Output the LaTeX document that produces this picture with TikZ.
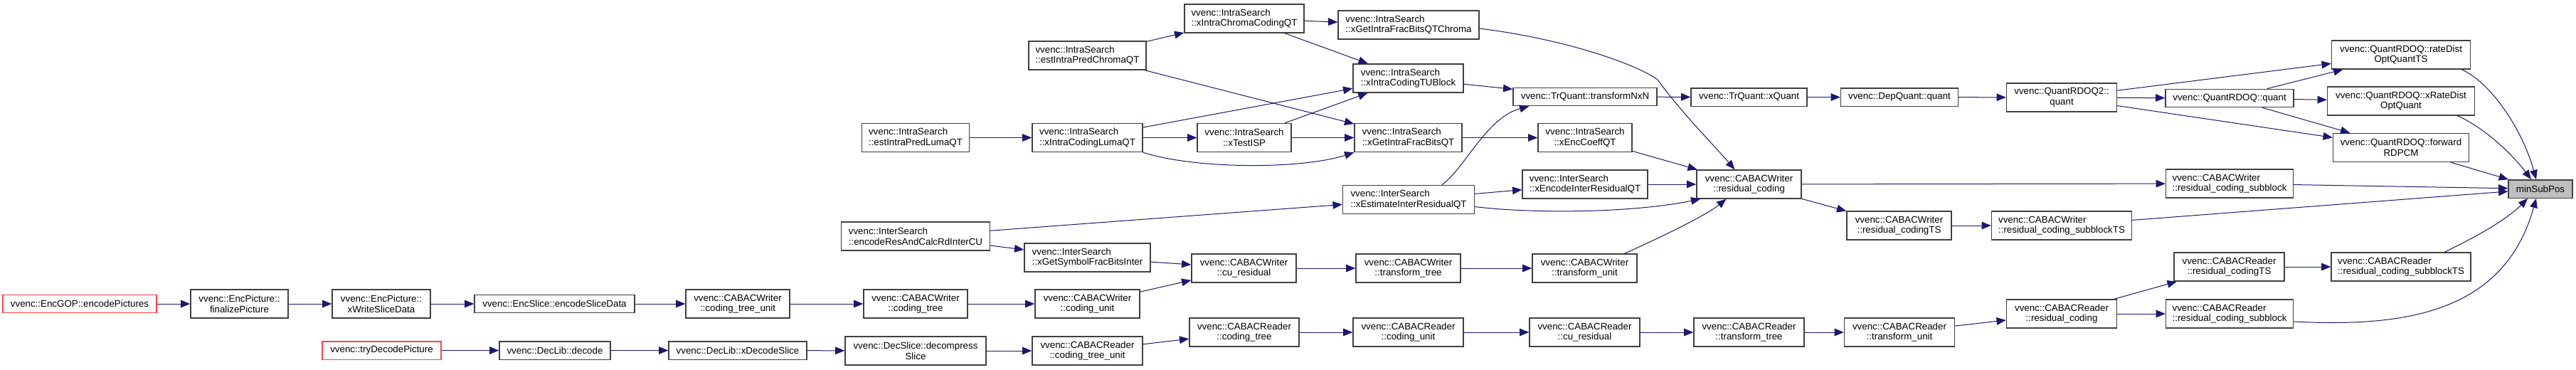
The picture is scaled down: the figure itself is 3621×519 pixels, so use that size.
\documentclass[tikz,border=0pt]{standalone}
\usepackage{fontspec}
\setmainfont{Liberation Sans}
\usetikzlibrary{arrows.meta,calc}
\definecolor{callEdge}{RGB}{25,25,112}
\definecolor{callRoot}{RGB}{255,64,64}
\definecolor{callFocus}{RGB}{191,191,191}
\definecolor{callBorder}{RGB}{64,64,64}

\begin{document}
\begin{tikzpicture}[x=0.75pt, y=-0.75pt, >={Triangle[length=10pt,width=8pt]},
  fnnode/.style={draw=callBorder, line width=1pt, fill=white, align=center, inner sep=1pt,
     minimum height=30pt, font=\fontsize{10}{11}\selectfont},
  fnleft/.style={fnnode, align=left},
  oneline/.style={minimum height=19pt},
  bw/.style={minimum width=#1*0.75pt},
  rootnode/.style={draw=callRoot},
  call/.style={->, line width=0.75pt, callEdge}]
  \useasboundingbox (0,0) rectangle (3621,519);
  % encoder chain
  \node[fnnode, rootnode, oneline, bw=216] (encpics) at (112,427) {vvenc::EncGOP::encodePictures};
  \node[fnnode, bw=137] (finpic) at (336.5,427) {vvenc::EncPicture::\\finalizePicture};
  \node[fnnode, bw=138] (wrslice) at (536,427) {vvenc::EncPicture::\\xWriteSliceData};
  \node[fnnode, oneline, bw=225] (encslice) at (779.5,427) {vvenc::EncSlice::encodeSliceData};
  \node[fnnode, bw=146] (ctuW) at (1037,427) {vvenc::CABACWriter\\::coding\_tree\_unit};
  \node[fnnode, bw=146] (ctW) at (1287,427) {vvenc::CABACWriter\\::coding\_tree};
  \node[fnnode, bw=147] (cuW) at (1528.5,427) {vvenc::CABACWriter\\::coding\_unit};
  \node[fnnode, bw=147] (curesW) at (1748.5,377) {vvenc::CABACWriter\\::cu\_residual};
  \node[fnnode, bw=147] (ttW) at (1979.5,377) {vvenc::CABACWriter\\::transform\_tree};
  \node[fnnode, bw=147] (tuW) at (2227.5,377) {vvenc::CABACWriter\\::transform\_unit};
  \node[fnnode, bw=147] (resW) at (2458.5,259) {vvenc::CABACWriter\\::residual\_coding};
  \node[fnnode, bw=147] (restsW) at (2669.5,317) {vvenc::CABACWriter\\::residual\_codingTS};
  \node[fnleft, bw=197] (sbtsW) at (2898,317) {vvenc::CABACWriter\\::residual\_coding\_subblockTS};
  \node[fnleft, bw=179] (sbW) at (3134,258) {vvenc::CABACWriter\\::residual\_coding\_subblock};
  % decoder chain
  \node[fnnode, rootnode, oneline, bw=167] (trydec) at (536.5,492.5) {vvenc::tryDecodePicture};
  \node[fnnode, oneline, bw=156] (dec) at (780,492.5) {vvenc::DecLib::decode};
  \node[fnnode, oneline, bw=194] (xdecsl) at (1037,492.5) {vvenc::DecLib::xDecodeSlice};
  \node[fnnode, bw=198] (decomp) at (1287,493) {vvenc::DecSlice::decompress\\Slice};
  \node[fnnode, bw=155] (ctuR) at (1528.5,493) {vvenc::CABACReader\\::coding\_tree\_unit};
  \node[fnnode, bw=154] (ctR) at (1749,467) {vvenc::CABACReader\\::coding\_tree};
  \node[fnnode, bw=155] (cuR) at (1979.5,467) {vvenc::CABACReader\\::coding\_unit};
  \node[fnnode, bw=155] (curesR) at (2227.5,467) {vvenc::CABACReader\\::cu\_residual};
  \node[fnnode, bw=155] (ttR) at (2458.5,467) {vvenc::CABACReader\\::transform\_tree};
  \node[fnnode, bw=155] (tuR) at (2670,467) {vvenc::CABACReader\\::transform\_unit};
  \node[fnnode, bw=155] (resR) at (2898,441) {vvenc::CABACReader\\::residual\_coding};
  \node[fnnode, bw=155] (restsR) at (3133.5,375) {vvenc::CABACReader\\::residual\_codingTS};
  \node[fnleft, bw=179] (sbR) at (3134,441) {vvenc::CABACReader\\::residual\_coding\_subblock};
  \node[fnleft, bw=196] (sbtsR) at (3375,375) {vvenc::CABACReader\\::residual\_coding\_subblockTS};
  % intra search
  \node[fnleft, bw=151] (estluma) at (1287,193.5) {vvenc::IntraSearch\\::estIntraPredLumaQT};
  \node[fnleft, bw=155] (lumaqt) at (1528.5,193.5) {vvenc::IntraSearch\\::xIntraCodingLumaQT};
  \node[fnnode, bw=132] (isp) at (1749,193.5) {vvenc::IntraSearch\\::xTestISP};
  \node[fnleft, bw=151] (fbqt) at (1979.5,193.5) {vvenc::IntraSearch\\::xGetIntraFracBitsQT};
  \node[fnnode, bw=132] (enccoef) at (2228,193.5) {vvenc::IntraSearch\\::xEncCoeffQT};
  \node[fnleft, bw=165] (estchroma) at (1528.5,78) {vvenc::IntraSearch\\::estIntraPredChromaQT};
  \node[fnleft, bw=168] (chromaqt) at (1749,26) {vvenc::IntraSearch\\::xIntraChromaCodingQT};
  \node[fnleft, bw=198] (fbchroma) at (1980,35) {vvenc::IntraSearch\\::xGetIntraFracBitsQTChroma};
  \node[fnleft, bw=155] (tublock) at (1979.5,110) {vvenc::IntraSearch\\::xIntraCodingTUBlock};
  % inter search
  \node[fnleft, bw=209] (encres) at (1287,332) {vvenc::InterSearch\\::encodeResAndCalcRdInterCU};
  \node[fnleft, bw=177] (symbits) at (1528.5,362) {vvenc::InterSearch\\::xGetSymbolFracBitsInter};
  \node[fnleft, bw=185] (estinter) at (1980,280.5) {vvenc::InterSearch\\::xEstimateInterResidualQT};
  \node[fnleft, bw=176] (encinter) at (2228,259) {vvenc::InterSearch\\::xEncodeInterResidualQT};
  % quantization
  \node[fnnode, oneline, bw=202] (tnxn) at (2228,136) {vvenc::TrQuant::transformNxN};
  \node[fnnode, oneline, bw=163] (xquant) at (2458.5,136.5) {vvenc::TrQuant::xQuant};
  \node[fnnode, oneline, bw=165] (depq) at (2670,136.5) {vvenc::DepQuant::quant};
  \node[fnnode, bw=155] (rdoq2) at (2898,137) {vvenc::QuantRDOQ2::\\quant};
  \node[fnnode, oneline, bw=180] (rdoq) at (3134,138) {vvenc::QuantRDOQ::quant};
  \node[fnnode, bw=195] (rdoqts) at (3375,77) {vvenc::QuantRDOQ::rateDist\\OptQuantTS};
  \node[fnnode, bw=207] (xrdoq) at (3375,142) {vvenc::QuantRDOQ::xRateDist\\OptQuant};
  \node[fnnode, bw=191] (rdpcm) at (3375,207.5) {vvenc::QuantRDOQ::forward\\RDPCM};
  \node[fnnode, oneline, fill=callFocus, bw=90] (minsub) at (3571,265.5) {minSubPos};

  \draw[call] (encpics) -- (finpic);
  \draw[call] (finpic) -- (wrslice);
  \draw[call] (wrslice) -- (encslice);
  \draw[call] (encslice) -- (ctuW);
  \draw[call] (ctuW) -- (ctW);
  \draw[call] (ctW) -- (cuW);
  \draw[call] (cuW) -- (curesW);
  \draw[call] (curesW) -- (ttW);
  \draw[call] (ttW) -- (tuW);
  \draw[call] ($(tuW.north)+(56,0)$) .. controls (2320,340) and (2395,305) .. ($(resW.south)+(-32,0)$);
  \draw[call] (trydec) -- (dec);
  \draw[call] (dec) -- (xdecsl);
  \draw[call] (xdecsl) -- (decomp);
  \draw[call] (decomp) -- (ctuR);
  \draw[call] (ctuR) -- (ctR);
  \draw[call] (ctR) -- (cuR);
  \draw[call] (cuR) -- (curesR);
  \draw[call] (curesR) -- (ttR);
  \draw[call] (ttR) -- (tuR);
  \draw[call] (tuR) -- (resR);
  \draw[call] (resR) -- (restsR);
  \draw[call] (resR) -- (sbR);
  \draw[call] (restsR) -- (sbtsR);
  \draw[call] ($(sbtsR.north)+(61,0)$) .. controls (3470,338) and (3520,312) .. ($(minsub.south)+(-18,0)$);
  \draw[call] ($(sbR.east)+(0,11)$) .. controls (3380,460) and (3520,440) .. ($(minsub.south)+(-6,0)$);
  \draw[call] (estluma) -- (lumaqt);
  \draw[call] (lumaqt) -- (isp);
  \draw[call] (lumaqt) -- (tublock);
  \draw[call] (lumaqt.south east) .. controls (1680,238) and (1830,238) .. (fbqt.south west);
  \draw[call] (isp) -- (tublock);
  \draw[call] (isp) -- (fbqt);
  \draw[call] (estchroma) -- (chromaqt);
  \draw[call] (estchroma) -- (fbqt);
  \draw[call] (chromaqt) -- (fbchroma);
  \draw[call] (chromaqt) -- (tublock);
  \draw[call] (tublock) -- (tnxn);
  \draw[call] (fbqt) -- (enccoef);
  \draw[call] ($(fbchroma.east)+(0,5)$) .. controls (2200,55) and (2300,90) .. (2330,112)
     .. controls (2365,160) and (2410,205) .. ($(resW.north)+(-20,0)$);
  \draw[call] (enccoef) -- (resW);
  \draw[call] (encres) -- (estinter);
  \draw[call] (encres) -- (symbits);
  \draw[call] (symbits) -- (curesW);
  \draw[call] ($(estinter.north)+(47,0)$) .. controls (2060,235) and (2090,165) .. ($(tnxn.south west)+(23,0)$);
  \draw[call] (estinter) -- (encinter);
  \draw[call] ($(estinter.east)+(0,10)$) .. controls (2150,300) and (2290,300) .. ($(resW.south west)+(6,0)$);
  \draw[call] (encinter) -- (resW);
  \draw[call] (tnxn) -- (xquant);
  \draw[call] (xquant) -- (depq);
  \draw[call] (depq) -- (rdoq2);
  \draw[call] (rdoq2) -- (rdoqts);
  \draw[call] (rdoq2) -- (rdoq);
  \draw[call] (rdoq2) -- (rdpcm);
  \draw[call] (rdoq) -- (rdoqts);
  \draw[call] (rdoq) -- (xrdoq);
  \draw[call] (rdoq) -- (rdpcm);
  \draw[call] ($(rdoqts.south)+(85,0)$) .. controls (3500,115) and (3545,180) .. ($(minsub.north)+(-6,0)$);
  \draw[call] ($(xrdoq.south)+(79,0)$) .. controls (3490,178) and (3530,215) .. ($(minsub.north)+(-13,0)$);
  \draw[call] (rdpcm) -- (minsub);
  \draw[call] (resW) -- (sbW);
  \draw[call] (resW) -- (restsW);
  \draw[call] (restsW) -- (sbtsW);
  \draw[call] (sbW) -- (minsub);
  \draw[call] (sbtsW) -- (minsub);
\end{tikzpicture}
\end{document}
